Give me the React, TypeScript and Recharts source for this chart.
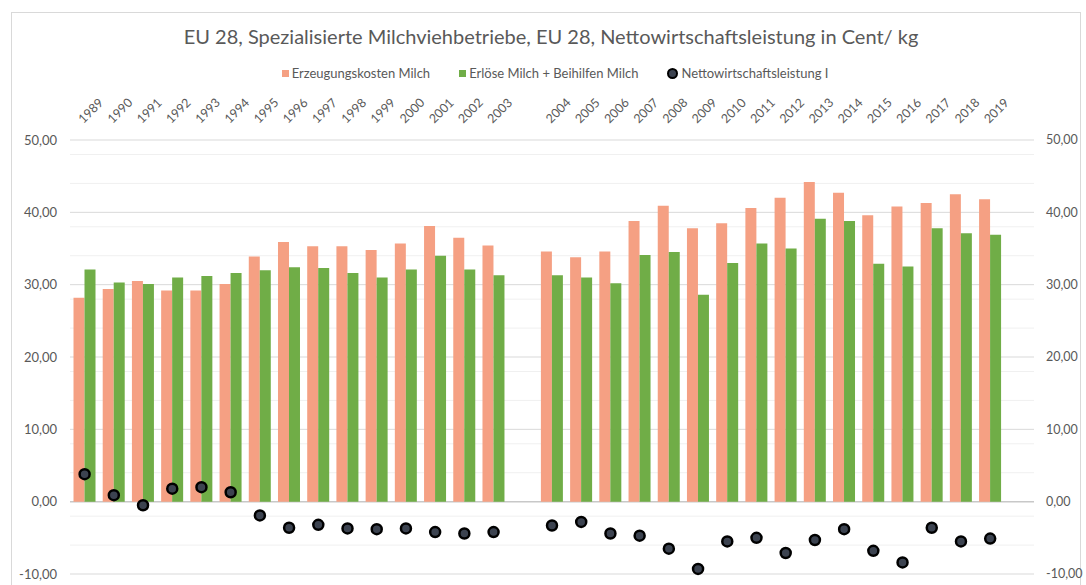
import React from 'react';
import { ComposedChart, Bar, Line, XAxis, YAxis, CartesianGrid } from 'recharts';

// Jahre; leere Einträge = Lücke nach 2003 und Leerraum rechts
const years = [
  '1989', '1990', '1991', '1992', '1993', '1994', '1995', '1996', '1997', '1998',
  '1999', '2000', '2001', '2002', '2003', '',
  '2004', '2005', '2006', '2007', '2008', '2009', '2010', '2011', '2012', '2013',
  '2014', '2015', '2016', '2017', '2018', '2019', '',
];

const kosten = [
  28.2, 29.4, 30.5, 29.2, 29.2, 30.1, 33.9, 35.9, 35.3, 35.3,
  34.8, 35.7, 38.1, 36.5, 35.4, null,
  34.6, 33.8, 34.6, 38.8, 40.9, 37.8, 38.5, 40.6, 42.0, 44.2,
  42.7, 39.6, 40.8, 41.3, 42.5, 41.8, null,
];

const erloese = [
  32.1, 30.3, 30.1, 31.0, 31.2, 31.6, 32.0, 32.4, 32.3, 31.6,
  31.0, 32.1, 34.0, 32.1, 31.3, null,
  31.3, 31.0, 30.2, 34.1, 34.5, 28.6, 33.0, 35.7, 35.0, 39.1,
  38.8, 32.9, 32.5, 37.8, 37.1, 36.9, null,
];

const netto = [
  3.8, 0.9, -0.5, 1.8, 2.0, 1.3, -1.9, -3.6, -3.2, -3.7,
  -3.8, -3.7, -4.2, -4.4, -4.2, null,
  -3.3, -2.8, -4.4, -4.7, -6.5, -9.3, -5.5, -5.0, -7.1, -5.3,
  -3.8, -6.8, -8.4, -3.6, -5.5, -5.1, null,
];

const yTicks = [-10, 0, 10, 20, 30, 40, 50];
const minorLines = [-8, -6, -4, -2, 2, 4, 6, 8, 12, 14, 16, 18, 22, 24, 26, 28, 32, 34, 36, 38, 42, 44, 46, 48];
const majorLines = [-10, 10, 20, 30, 40, 50];

const data = years.map((year, i) => ({
  year,
  kosten: kosten[i],
  erloese: erloese[i],
  netto: netto[i],
}));

const ORANGE = '#F5A083';
const GREEN = '#70AD47';
const TEXT = '#595959';

const fmt = (v: number) => v.toFixed(2).replace('.', ',');

const YearTick = ({ x, y, payload }: any) => (
  <text
    x={x - 1}
    y={y - 14}
    transform={`rotate(-45 ${x - 1} ${y - 14})`}
    textAnchor="start"
    fontSize={12.5}
    fill={TEXT}
    fontFamily="Lato, sans-serif"
  >
    {payload.value}
  </text>
);

const NettoDot = ({ cx, cy, value }: any) => {
  if (value == null || cx == null || cy == null) return null;
  return <circle cx={cx} cy={cy} r={5} fill="#3c4350" stroke="#000" strokeWidth={2.5} />;
};

const legendItems = [
  { name: 'Erzeugungskosten Milch', color: ORANGE, shape: 'square' },
  { name: 'Erlöse Milch + Beihilfen Milch', color: GREEN, shape: 'square' },
  { name: 'Nettowirtschaftsleistung I', color: '#000', shape: 'circle' },
];

export default function App() {
  return (
    <div
      style={{
        position: 'absolute',
        left: 0,
        top: 0,
        width: 1086,
        height: 585,
        background: '#fff',
        overflow: 'hidden',
        fontFamily: 'Lato, sans-serif',
      }}
    >
      <div
        style={{
          position: 'absolute',
          left: 11,
          top: 12,
          width: 1068,
          height: 620,
          border: '1px solid #D9D9D9',
        }}
      />
      <div
        style={{
          position: 'absolute',
          top: 24,
          left: 0,
          width: 1102,
          textAlign: 'center',
          fontSize: 20,
          color: TEXT,
        }}
      >
        EU 28, Spezialisierte Milchviehbetriebe, EU 28, Nettowirtschaftsleistung in Cent/ kg
      </div>
      <div
        style={{
          position: 'absolute',
          top: 65,
          left: 0,
          width: 1110,
          display: 'flex',
          justifyContent: 'center',
          gap: 29,
          fontSize: 13,
          color: TEXT,
        }}
      >
        {legendItems.map((it) => (
          <div key={it.name} style={{ display: 'flex', alignItems: 'center', gap: 3 }}>
            <span
              style={{
                display: 'inline-block',
                width: 7,
                height: 7,
                background: it.shape === 'circle' ? '#3c4350' : it.color,
                border: it.shape === 'circle' ? '2px solid #000' : 'none',
                borderRadius: it.shape === 'circle' ? '50%' : 0,
              }}
            />
            <span>{it.name}</span>
          </div>
        ))}
      </div>
      <ComposedChart
        width={1086}
        height={585}
        data={data}
        margin={{ top: 60, right: 0, left: 0, bottom: 11 }}
        barCategoryGap="12%"
        barGap={0}
        style={{ position: 'absolute', left: 0, top: 0 }}
      >
        <CartesianGrid yAxisId="left" vertical={false} horizontalValues={minorLines} stroke="#F0F0F0" />
        <CartesianGrid yAxisId="left" vertical={false} horizontalValues={majorLines} stroke="#D9D9D9" />
        <CartesianGrid yAxisId="left" vertical={false} horizontalValues={[0]} stroke="#C8C8C8" strokeWidth={1.5} />
        <XAxis
          dataKey="year"
          orientation="top"
          height={80}
          axisLine={false}
          tickLine={false}
          tickSize={0}
          interval={0}
          tick={<YearTick />}
        />
        <YAxis
          yAxisId="left"
          width={70}
          domain={[-10, 50]}
          ticks={yTicks}
          axisLine={false}
          tickLine={false}
          tickSize={0}
          tickMargin={13}
          tickFormatter={fmt}
          tick={{ fontSize: 13, fill: TEXT, fontFamily: 'Lato, sans-serif' }}
        />
        <YAxis
          yAxisId="right"
          orientation="right"
          width={52}
          domain={[-10, 50]}
          ticks={yTicks}
          axisLine={false}
          tickLine={false}
          tickSize={0}
          tickMargin={12}
          tickFormatter={fmt}
          tick={{ fontSize: 12.5, fill: TEXT, fontFamily: 'Lato, sans-serif', textAnchor: 'start' }}
        />
        <Bar yAxisId="left" dataKey="kosten" fill={ORANGE} isAnimationActive={false} />
        <Bar yAxisId="left" dataKey="erloese" fill={GREEN} isAnimationActive={false} />
        <Line
          yAxisId="right"
          dataKey="netto"
          stroke="none"
          dot={<NettoDot />}
          activeDot={false}
          isAnimationActive={false}
        />
      </ComposedChart>
    </div>
  );
}
